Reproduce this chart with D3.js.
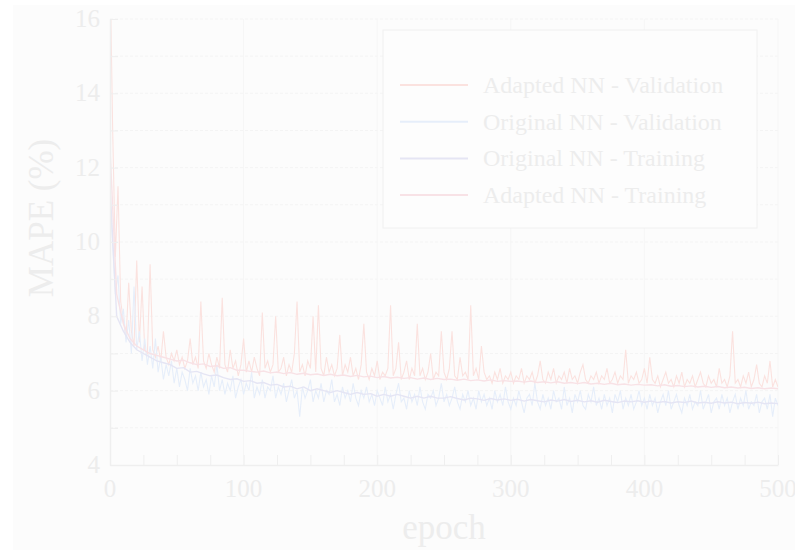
<!DOCTYPE html>
<html>
<head>
<meta charset="utf-8">
<script src="https://cdn.jsdelivr.net/npm/d3@7"></script>
<style>
  body { margin: 0; background: #ffffff; }
  svg text { font-family: "Liberation Serif", "Times New Roman", serif; fill: #ededed; }
</style>
</head>
<body>
<svg id="chart" width="795" height="550"></svg>
<script>
// validation series, one value every 2 epochs (0..500)
var valStep = 2;
var adaptedVal = [
  17.5, 13.0, 9.6, 11.5, 8.4, 7.9, 7.4, 8.9, 7.6, 7.2, 9.5, 7.3, 8.8, 7.1, 7.0, 9.4, 7.1, 6.9, 7.2, 6.8,
  7.6, 6.9, 6.7, 7.0, 6.8, 7.1, 6.7, 6.9, 6.6, 6.8, 7.4, 6.7, 6.9, 6.6, 8.4, 6.8, 6.6, 7.0, 6.7, 6.5,
  6.9, 6.6, 8.5, 6.7, 6.5, 7.1, 6.6, 6.8, 6.4, 6.7, 7.4, 6.5, 6.8, 6.5, 6.9, 6.6, 6.4, 8.1, 6.6, 6.8,
  6.5, 6.7, 8.0, 6.5, 6.6, 6.9, 6.4, 6.7, 6.5, 7.0, 8.4, 6.5, 6.7, 6.4, 6.8, 6.6, 8.0, 6.5, 8.3, 6.6,
  6.4, 6.9, 6.5, 6.7, 6.4, 6.6, 7.5, 6.4, 6.7, 6.5, 6.9, 6.4, 6.6, 6.3, 6.7, 7.8, 6.5, 6.3, 6.6, 6.4,
  6.8, 6.3, 6.5, 6.4, 6.6, 8.3, 6.4, 6.6, 7.3, 6.3, 6.5, 6.8, 6.3, 6.6, 6.4, 7.8, 6.4, 6.6, 6.3, 6.5,
  7.0, 6.3, 6.5, 6.4, 7.6, 6.5, 6.3, 6.6, 7.6, 6.4, 6.3, 6.9, 6.4, 6.5, 6.3, 8.3, 6.4, 6.6, 6.3, 7.2,
  6.5, 6.3, 6.4, 6.2, 6.5, 6.3, 6.6, 6.2, 6.4, 6.3, 6.5, 6.2, 6.4, 6.3, 6.6, 6.2, 6.4, 6.3, 6.5, 6.2,
  6.4, 6.8, 6.3, 6.2, 6.5, 6.3, 6.6, 6.2, 6.4, 6.3, 6.5, 6.2, 6.6, 6.3, 6.4, 6.2, 6.5, 6.7, 6.3, 6.2,
  6.4, 6.3, 6.5, 6.2, 6.4, 6.3, 6.6, 6.2, 6.3, 6.5, 6.2, 6.4, 6.3, 7.1, 6.2, 6.4, 6.3, 6.5, 6.2, 6.3,
  6.6, 6.2, 6.9, 6.3, 6.2, 6.4, 6.1, 6.3, 6.5, 6.2, 6.3, 6.1, 6.4, 6.2, 6.5, 6.1, 6.3, 6.2, 6.4, 6.1,
  6.3, 6.5, 6.2, 6.1, 6.4, 6.2, 6.3, 6.1, 6.6, 6.2, 6.3, 6.1, 6.4, 7.6, 6.2, 6.3, 6.1, 6.4, 6.2, 6.5,
  6.1, 6.3, 6.7, 6.2, 6.1, 6.4, 6.2, 6.8, 6.1, 6.3, 6.1
];
var originalVal = [
  11.2, 9.9, 8.6, 9.1, 7.8, 8.2, 7.3, 7.9, 7.0, 8.8, 7.1, 7.6, 6.8, 7.4, 6.7, 7.2, 6.6, 7.4, 6.5, 6.9,
  6.3, 6.7, 6.4, 6.8, 6.2, 6.6, 6.1, 6.5, 6.3, 6.0, 6.6, 6.2, 6.4, 6.0, 6.5, 6.1, 6.3, 5.9, 6.4, 6.1,
  6.7, 6.0, 6.3, 5.9, 6.2, 6.0, 6.4, 5.8, 6.1, 6.3, 5.9, 6.2, 6.0, 6.5, 5.8, 6.1, 5.9, 6.3, 5.8, 6.1,
  6.0, 6.4, 5.8, 6.1, 5.9, 6.2, 5.7, 6.0, 6.3, 5.8, 6.0, 5.3, 6.1, 5.8, 6.0, 6.3, 5.7, 6.0, 5.8, 6.2,
  5.7, 6.0, 5.9, 6.3, 5.7, 5.9, 5.6, 6.1, 5.8, 6.0, 5.7, 6.2, 5.8, 5.6, 6.0, 5.8, 6.1, 5.7, 5.9, 5.6,
  6.0, 5.8, 5.6, 6.1, 5.7, 5.9, 5.5, 5.9, 6.2, 5.7, 5.8, 5.5, 6.0, 5.7, 5.9, 5.6, 6.1, 5.7, 5.5, 5.9,
  5.8, 6.0, 5.6, 5.8, 6.2, 5.7, 5.9, 5.6, 5.8, 6.1, 5.7, 5.5, 5.9, 5.7, 6.0, 5.6, 5.8, 5.5, 6.0, 5.7,
  5.9, 5.6, 5.8, 5.5, 6.0, 5.7, 5.9, 5.6, 6.1, 5.7, 5.5, 5.8, 5.6, 6.0, 5.7, 5.4, 5.8, 5.9, 5.6, 6.2,
  5.7, 5.5, 5.9, 5.6, 5.8, 5.5, 6.0, 5.7, 5.8, 5.5, 6.1, 5.6, 5.8, 5.4, 5.9, 5.7, 6.0, 5.6, 5.5, 5.9,
  5.7, 6.1, 5.6, 5.8, 5.5, 5.9, 5.6, 5.8, 5.4, 5.9, 5.7, 6.0, 5.5, 5.8, 5.6, 5.9, 5.5, 5.7, 6.0, 5.6,
  5.8, 5.5, 5.9, 5.6, 5.8, 5.4, 5.7, 5.9, 5.6, 6.0, 5.5, 5.7, 5.9, 5.6, 5.4, 5.8, 5.6, 5.9, 5.5, 5.7,
  5.6, 6.0, 5.5, 5.7, 5.9, 5.4, 5.7, 5.8, 5.5, 5.9, 5.6, 5.8, 5.4, 5.7, 5.9, 5.5, 5.8, 5.6, 6.0, 5.5,
  5.7, 5.6, 5.9, 5.4, 5.7, 5.8, 5.5, 5.9, 5.3, 5.8, 5.6
];

// training series, one value every 5 epochs (0..500)
var trainStep = 5;
var originalTrain = [
  11.5, 8.0, 7.6, 7.3, 7.1, 7.0, 6.9, 6.8, 6.75, 6.7, 6.6, 6.62, 6.5, 6.52, 6.45, 6.4, 6.42, 6.35, 6.3, 6.32,
  6.25, 6.27, 6.2, 6.22, 6.15, 6.17, 6.1, 6.12, 6.05, 6.1, 6.0, 6.05, 6.0, 5.95, 6.0, 5.95, 5.9, 5.95, 5.9, 5.92,
  5.85, 5.9, 5.85, 5.9, 5.85, 5.8, 5.85, 5.8, 5.85, 5.8, 5.8, 5.84, 5.79, 5.75, 5.8, 5.78, 5.74, 5.79, 5.75, 5.78,
  5.74, 5.77, 5.72, 5.76, 5.73, 5.7, 5.75, 5.72, 5.76, 5.71, 5.74, 5.7, 5.73, 5.69, 5.74, 5.71, 5.68, 5.72, 5.7, 5.73,
  5.69, 5.72, 5.68, 5.71, 5.67, 5.7, 5.68, 5.72, 5.67, 5.69, 5.66, 5.7, 5.67, 5.69, 5.65, 5.68, 5.66, 5.69, 5.65, 5.67,
  5.65
];
var adaptedTrain = [
  12.5, 8.6, 7.8, 7.4, 7.2, 7.1, 7.0, 6.95, 6.9, 6.85, 6.8, 6.82, 6.75, 6.7, 6.72, 6.65, 6.67, 6.6, 6.62, 6.55,
  6.55, 6.52, 6.5, 6.53, 6.48, 6.5, 6.46, 6.49, 6.44, 6.47, 6.43, 6.45, 6.41, 6.44, 6.4, 6.42, 6.38, 6.41, 6.37, 6.39,
  6.35, 6.38, 6.34, 6.36, 6.33, 6.35, 6.31, 6.34, 6.3, 6.33, 6.3, 6.31, 6.28, 6.31, 6.27, 6.29, 6.26, 6.29, 6.25, 6.27,
  6.25, 6.26, 6.23, 6.26, 6.22, 6.24, 6.21, 6.24, 6.2, 6.22, 6.19, 6.22, 6.18, 6.2, 6.17, 6.2, 6.16, 6.18, 6.15, 6.17,
  6.15, 6.16, 6.13, 6.16, 6.12, 6.14, 6.11, 6.13, 6.1, 6.12, 6.09, 6.11, 6.08, 6.1, 6.07, 6.09, 6.06, 6.08, 6.05, 6.07,
  6.05
];

var seriesNames = ["Adapted NN - Validation", "Original NN - Validation", "Original NN - Training", "Adapted NN - Training"];
var seriesColors = ["#fbe2df", "#e6eefa", "#e5e5f4", "#f8e2e6"];
var xTicks = [0, 100, 200, 300, 400, 500];
var yTicks = [4, 6, 8, 10, 12, 14, 16];

var svg = d3.select("#chart"),
    plotLeft = 110, plotRight = 778, plotTop = 19, plotBottom = 465;

svg.append("rect")
    .attr("x", 13).attr("y", 5)
    .attr("width", 782).attr("height", 545)
    .attr("fill", "#fcfcfc");

var x = d3.scaleLinear().domain([0, 500]).range([plotLeft, plotRight]);
var y = d3.scaleLinear().domain([4, 16]).range([plotBottom, plotTop]);

// grid
svg.append("g").selectAll("line")
    .data(d3.range(5, 17, 1))
    .enter().append("line")
    .attr("x1", plotLeft).attr("x2", plotRight)
    .attr("y1", function (d) { return y(d); })
    .attr("y2", function (d) { return y(d); })
    .attr("stroke", "#f4f4f4")
    .attr("stroke-dasharray", "3,2");

svg.append("g").selectAll("line")
    .data([100, 200, 300, 400, 500])
    .enter().append("line")
    .attr("x1", function (d) { return x(d); })
    .attr("x2", function (d) { return x(d); })
    .attr("y1", plotTop).attr("y2", plotBottom)
    .attr("stroke", "#f6f6f6");

svg.append("clipPath").attr("id", "plotclip")
    .append("rect")
    .attr("x", plotLeft).attr("y", plotTop)
    .attr("width", plotRight - plotLeft).attr("height", plotBottom - plotTop);

var line = d3.line()
    .x(function (d) { return x(d[0]); })
    .y(function (d) { return y(d[1]); });

function pairs(values, step) {
    return values.map(function (v, i) { return [i * step, v]; });
}

var allSeries = [
    {data: pairs(adaptedVal, valStep), w: 1.1},
    {data: pairs(originalVal, valStep), w: 1.1},
    {data: pairs(originalTrain, trainStep), w: 1.4},
    {data: pairs(adaptedTrain, trainStep), w: 1.4}
];

var lines = svg.append("g").attr("clip-path", "url(#plotclip)");
allSeries.forEach(function (s, i) {
    lines.append("path")
        .datum(s.data)
        .attr("fill", "none")
        .attr("stroke", seriesColors[i])
        .attr("stroke-width", s.w)
        .attr("d", line);
});

// axes, ticks point inward
var xAxis = svg.append("g")
    .attr("transform", "translate(0," + plotBottom + ")")
    .call(d3.axisBottom(x).tickValues(d3.range(0, 501, 25)).tickSizeInner(-10).tickSizeOuter(0).tickFormat(""));
var yAxis = svg.append("g")
    .attr("transform", "translate(" + plotLeft + ",0)")
    .call(d3.axisLeft(y).tickValues(d3.range(4, 17, 1)).tickSizeInner(-8).tickSizeOuter(0).tickFormat(""));
[xAxis, yAxis].forEach(function (a) {
    a.select(".domain").attr("stroke", "#efefef").attr("stroke-width", 1.5);
    a.selectAll(".tick line").attr("stroke", "#efefef");
});

svg.append("g").selectAll("text")
    .data(xTicks)
    .enter().append("text")
    .attr("x", function (d) { return x(d); })
    .attr("y", 497)
    .attr("text-anchor", "middle")
    .style("font-size", "25px")
    .text(function (d) { return d; });

svg.append("g").selectAll("text")
    .data(yTicks)
    .enter().append("text")
    .attr("x", 100)
    .attr("y", function (d) { return y(d) + 8; })
    .attr("text-anchor", "end")
    .style("font-size", "25px")
    .text(function (d) { return d; });

svg.append("text")
    .attr("x", 444).attr("y", 539)
    .attr("text-anchor", "middle")
    .style("font-size", "35px")
    .text("epoch");

svg.append("text")
    .attr("transform", "translate(53,218) rotate(-90)")
    .attr("text-anchor", "middle")
    .style("font-size", "35px")
    .text("MAPE (%)");

// legend
var legend = svg.append("g");
legend.append("rect")
    .attr("x", 383).attr("y", 30)
    .attr("width", 374).attr("height", 198)
    .attr("fill", "#fdfdfd")
    .attr("stroke", "#f0f0f0");

seriesNames.forEach(function (name, i) {
    var yy = 85 + i * 36.7;
    legend.append("line")
        .attr("x1", 400).attr("x2", 468)
        .attr("y1", yy).attr("y2", yy)
        .attr("stroke", seriesColors[i])
        .attr("stroke-width", 2);
    legend.append("text")
        .attr("x", 483).attr("y", yy + 8)
        .style("font-size", "24px")
        .text(name);
});
</script>
</body>
</html>
